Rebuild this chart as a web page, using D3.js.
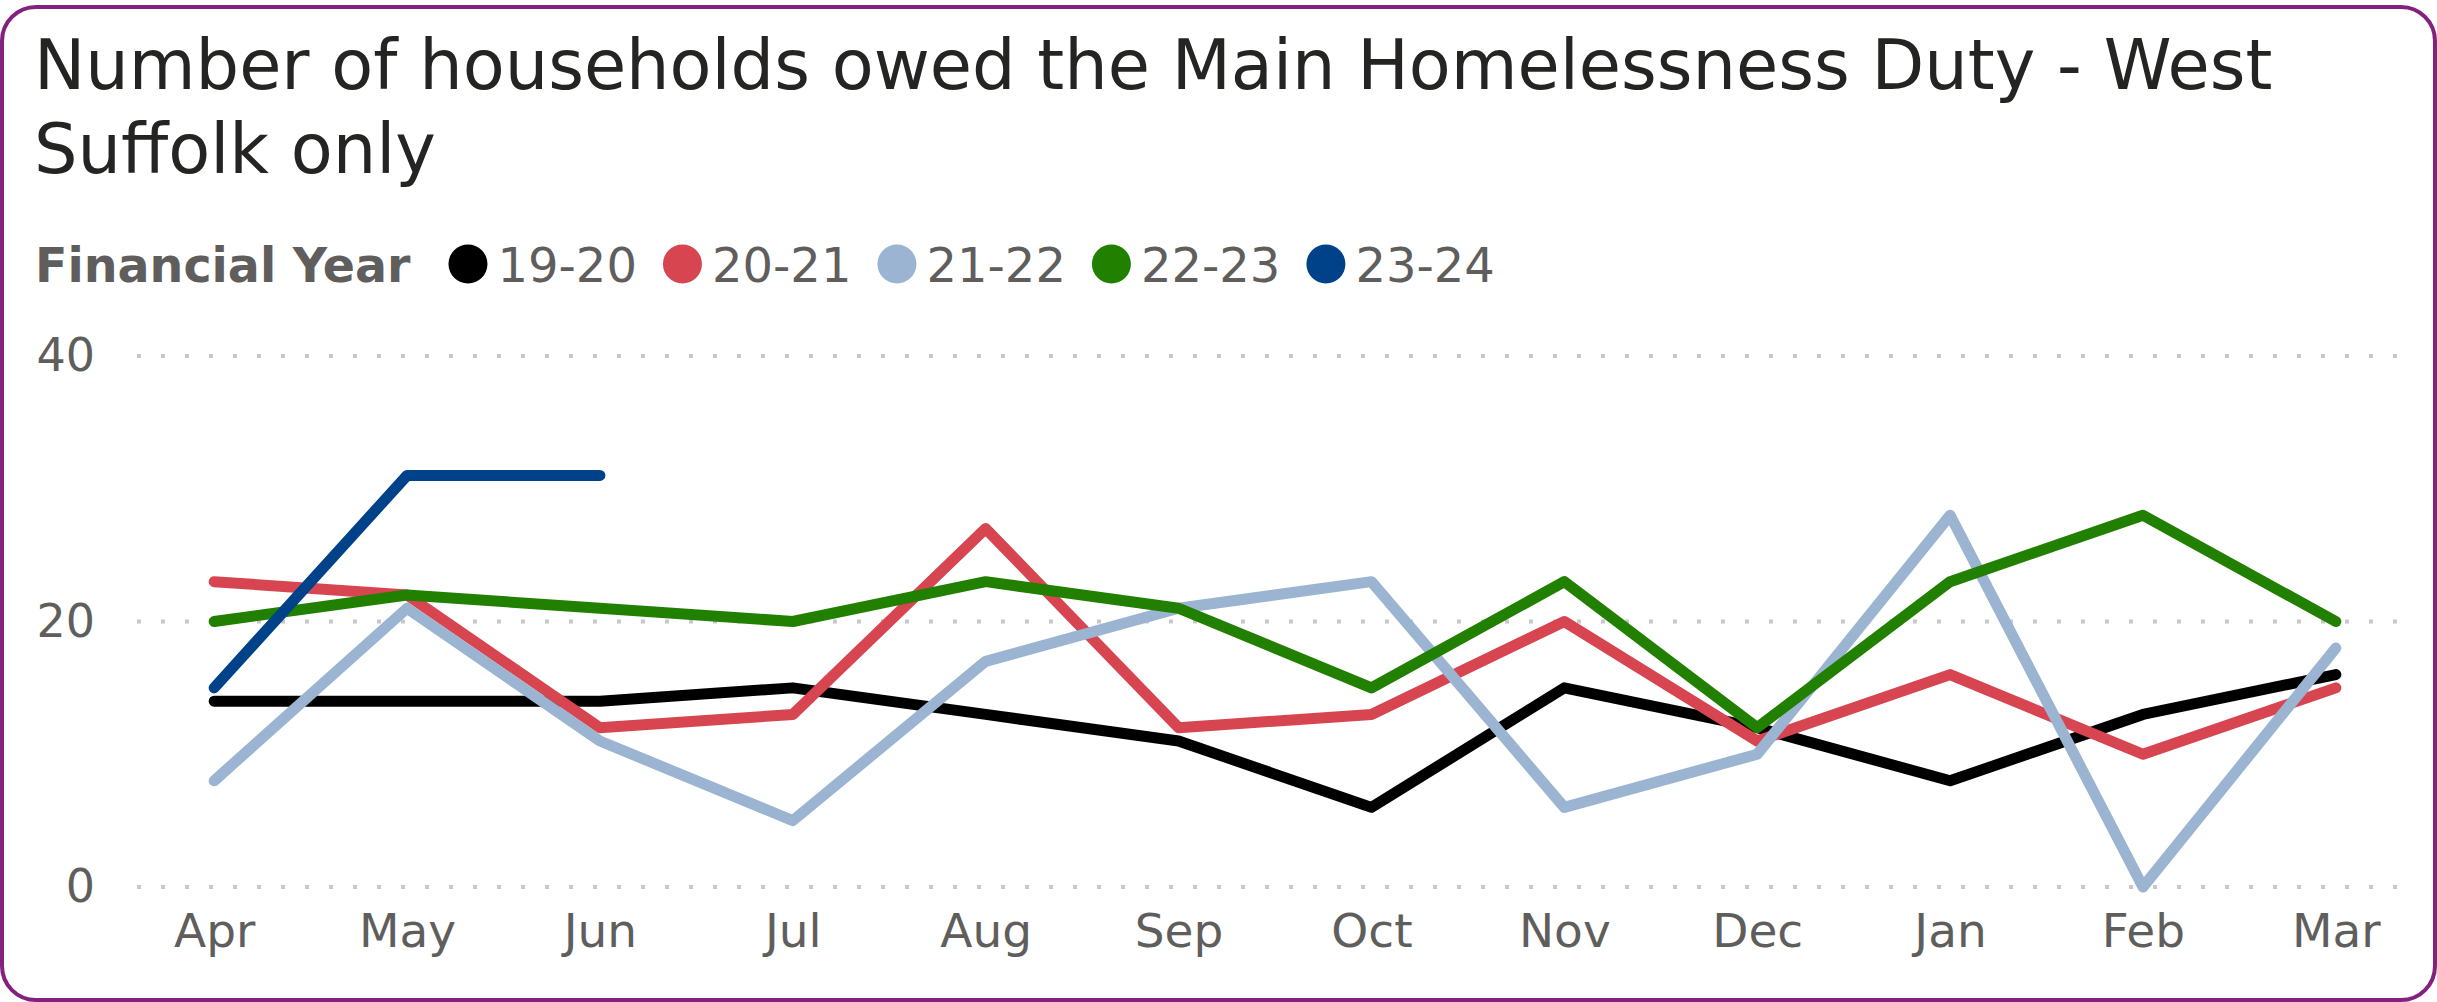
<!DOCTYPE html>
<html>
<head>
<meta charset="utf-8">
<script src="https://cdnjs.cloudflare.com/ajax/libs/d3/7.8.5/d3.min.js"></script>
<style>
  body { margin: 0; background: #fff; }
  text { font-family: "DejaVu Sans", Verdana, sans-serif; }
</style>
</head>
<body>
<div id="chart"></div>
<script>
// month categories (financial year order)
var months = ["Apr", "May", "Jun", "Jul", "Aug", "Sep", "Oct", "Nov", "Dec", "Jan", "Feb", "Mar"];
var years = ["19-20", "20-21", "21-22", "22-23", "23-24"];
var yTicks = [0, 20, 40];

// values
var fy1920 = [14, 14, 14, 15, 13, 11, 6, 15, 12, 8, 13, 16];
var fy2021 = [23, 22, 12, 13, 27, 12, 13, 20, 11, 16, 10, 15];
var fy2122 = [8, 21, 11, 5, 17, 21, 23, 6, 10, 28, 0, 18];
var fy2223 = [20, 22, 21, 20, 23, 21, 15, 23, 12, 23, 28, 20];
var fy2324 = [15, 31, 31];

var colors = ["#000000", "#d64550", "#9bb4d2", "#228000", "#00428a"];
var series = [fy1920, fy2021, fy2122, fy2223, fy2324];

var W = 2437, H = 1002;
var svg = d3.select("#chart").append("svg")
    .attr("width", W)
    .attr("height", H);

// card border
svg.append("rect")
    .attr("x", 2).attr("y", 7)
    .attr("width", W - 4).attr("height", H - 9)
    .attr("rx", 34).attr("ry", 34)
    .attr("fill", "#fff")
    .attr("stroke", "#84217f")
    .attr("stroke-width", 4);

// title
var title = svg.append("text")
    .attr("x", 34)
    .attr("fill", "#252423")
    .attr("font-size", 68.6);
title.append("tspan").attr("x", 34).attr("y", 89).text("Number of households owed the Main Homelessness Duty - West");
title.append("tspan").attr("x", 34).attr("y", 173).text("Suffolk only");

// legend
var legend = svg.append("g");
var lt = legend.append("text")
    .attr("x", 35).attr("y", 282)
    .attr("font-size", 47.5).attr("font-weight", "bold")
    .attr("fill", "#605e5c")
    .text("Financial Year");
var lx = 35 + lt.node().getComputedTextLength() + 38;
years.forEach(function(y, i) {
  legend.append("circle")
      .attr("cx", lx + 19.5).attr("cy", 264).attr("r", 19.5)
      .attr("fill", colors[i]);
  var t = legend.append("text")
      .attr("x", lx + 49).attr("y", 282)
      .attr("font-size", 48)
      .attr("fill", "#605e5c")
      .text(y);
  lx = lx + 49 + t.node().getComputedTextLength() + 26;
});

// scales
var x = d3.scalePoint()
    .domain(months)
    .range([137, 2413])
    .padding(0.4);

var yScale = d3.scaleLinear()
    .domain([0, 40])
    .range([887, 356]);

// gridlines
svg.append("g")
    .selectAll("line")
    .data(yTicks)
  .enter().append("line")
    .attr("x1", 137).attr("x2", 2401)
    .attr("y1", function(d) { return yScale(d); })
    .attr("y2", function(d) { return yScale(d); })
    .attr("stroke", "#c8c8c8")
    .attr("stroke-width", 4)
    .attr("stroke-dasharray", "4,20");

// y axis labels
var yAxis = svg.append("g")
    .attr("transform", "translate(95,0)")
    .call(d3.axisLeft(yScale).tickValues(yTicks).tickSize(0).tickPadding(0));
yAxis.select(".domain").remove();
yAxis.selectAll("text")
    .attr("font-size", 46)
    .attr("fill", "#605e5c")
    .attr("font-family", "DejaVu Sans");

// x axis labels
var xAxis = svg.append("g")
    .attr("transform", "translate(0,914)")
    .call(d3.axisBottom(x).tickSize(0).tickPadding(0));
xAxis.select(".domain").remove();
xAxis.selectAll("text")
    .attr("font-size", 47)
    .attr("fill", "#605e5c")
    .attr("font-family", "DejaVu Sans");

// lines
var line = d3.line()
    .x(function(d, i) { return x(months[i]); })
    .y(function(d) { return yScale(d); });

series.forEach(function(s, i) {
  svg.append("path")
      .datum(s)
      .attr("d", line)
      .attr("fill", "none")
      .attr("stroke", colors[i])
      .attr("stroke-width", 11)
      .attr("stroke-linejoin", "round")
      .attr("stroke-linecap", "round");
});
</script>
</body>
</html>
